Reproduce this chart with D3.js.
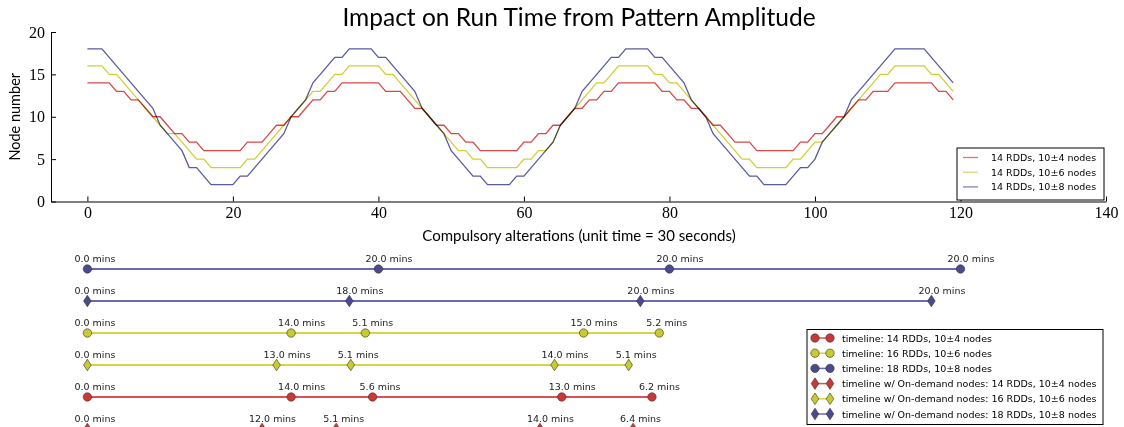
<!DOCTYPE html>
<html>
<head>
<meta charset="utf-8">
<script src="https://cdn.jsdelivr.net/npm/d3@7"></script>
<style>
  body { margin: 0; background: #fff; }
  svg { display: block; font-family: Lato, sans-serif; }
</style>
</head>
<body>
<div id="chart"></div>
<script>
// node counts per compulsory alteration (x = 0..119)
const nodes4 = [
  14, 14, 14, 14, 13, 13, 12, 12, 11, 10,
  10, 9, 8, 8, 7, 7, 6, 6, 6, 6,
  6, 6, 7, 7, 7, 8, 9, 9, 10, 10,
  11, 12, 12, 13, 13, 14, 14, 14, 14, 14,
  14, 13, 13, 13, 12, 11, 11, 10, 9, 9,
  8, 8, 7, 7, 6, 6, 6, 6, 6, 6,
  7, 7, 8, 8, 9, 9, 10, 11, 11, 12,
  12, 13, 13, 14, 14, 14, 14, 14, 14, 13,
  13, 12, 12, 11, 11, 10, 9, 9, 8, 7,
  7, 7, 6, 6, 6, 6, 6, 6, 7, 7,
  8, 8, 9, 10, 10, 11, 12, 12, 13, 13,
  13, 14, 14, 14, 14, 14, 14, 13, 13, 12,
];
const nodes6 = [
  16, 16, 16, 15, 15, 14, 13, 12, 11, 10,
  9, 8, 8, 7, 6, 5, 5, 4, 4, 4,
  4, 4, 5, 5, 6, 7, 8, 9, 10, 11,
  12, 13, 13, 14, 15, 15, 16, 16, 16, 16,
  16, 15, 15, 14, 13, 12, 11, 10, 9, 8,
  7, 6, 6, 5, 5, 4, 4, 4, 4, 4,
  5, 5, 6, 6, 7, 9, 10, 11, 12, 13,
  14, 14, 15, 16, 16, 16, 16, 16, 15, 15,
  14, 14, 13, 12, 11, 10, 9, 8, 7, 6,
  5, 5, 4, 4, 4, 4, 4, 5, 5, 6,
  7, 7, 8, 9, 10, 11, 12, 13, 14, 15,
  15, 16, 16, 16, 16, 16, 15, 15, 14, 13,
];
const nodes8 = [
  18, 18, 18, 17, 16, 15, 14, 13, 12, 11,
  9, 8, 7, 6, 4, 4, 3, 2, 2, 2,
  2, 3, 3, 4, 5, 6, 7, 8, 10, 11,
  12, 14, 15, 16, 17, 17, 18, 18, 18, 18,
  17, 17, 16, 15, 14, 13, 11, 10, 9, 8,
  6, 5, 4, 3, 3, 2, 2, 2, 2, 3,
  3, 4, 5, 6, 7, 9, 10, 11, 13, 14,
  15, 16, 17, 17, 18, 18, 18, 18, 17, 17,
  16, 15, 14, 12, 11, 10, 8, 7, 6, 5,
  4, 3, 3, 2, 2, 2, 2, 3, 4, 4,
  5, 7, 8, 9, 10, 12, 13, 14, 15, 16,
  17, 18, 18, 18, 18, 18, 17, 16, 15, 14,
];
const seriesNames = ['14 RDDs, 10±4 nodes', '14 RDDs, 10±6 nodes', '14 RDDs, 10±8 nodes'];
const xTicks = [0, 20, 40, 60, 80, 100, 120, 140];
const yTicks = [0, 5, 10, 15, 20];

// timeline segment lengths in minutes
const tl18 = [0, 20, 20, 20];
const tl18od = [0, 18, 20, 20];
const tl16 = [0, 14, 5.1, 15, 5.2];
const tl16od = [0, 13, 5.1, 14, 5.1];
const tl14 = [0, 14, 5.6, 13, 6.2];
const tl14od = [0, 12, 5.1, 14, 6.4];
const timelineNames = [
  'timeline: 14 RDDs, 10±4 nodes',
  'timeline: 16 RDDs, 10±6 nodes',
  'timeline: 18 RDDs, 10±8 nodes',
  'timeline w/ On-demand nodes: 14 RDDs, 10±4 nodes',
  'timeline w/ On-demand nodes: 16 RDDs, 10±6 nodes',
  'timeline w/ On-demand nodes: 18 RDDs, 10±8 nodes',
];

const red = '#d84848', yellow = '#cfcf38', blue = '#5a5aa4';
const palette = {
  red: { line: '#dc5252', fill: '#cc3636' },
  yellow: { line: '#d4d444', fill: '#c9c930' },
  blue: { line: '#6a6ab2', fill: '#4a4a90' },
};

const width = 1124, height = 427;
const svg = d3.select('#chart').append('svg')
  .attr('width', width).attr('height', height);

const x = d3.scaleLinear().domain([-5, 140]).range([51, 1106]);
const y = d3.scaleLinear().domain([0, 20]).range([201.5, 32]);

// axes
const xAxis = svg.append('g')
  .attr('transform', `translate(0,${y(0)})`)
  .call(d3.axisBottom(x).tickValues(xTicks).tickSizeInner(-5).tickSizeOuter(0).tickPadding(5));
const yAxis = svg.append('g')
  .attr('transform', `translate(${x(-5)},0)`)
  .call(d3.axisLeft(y).tickValues(yTicks).tickSizeInner(-5).tickSizeOuter(0).tickPadding(6));
[xAxis, yAxis].forEach((g) => {
  g.selectAll('text').attr('font-family', '"Liberation Serif", serif').attr('font-size', 16).attr('fill', '#000');
  g.selectAll('line, path').attr('stroke', '#000').attr('stroke-width', 1);
});

svg.append('text')
  .attr('x', 579).attr('y', 26)
  .attr('text-anchor', 'middle')
  .attr('font-size', 24.5)
  .text('Impact on Run Time from Pattern Amplitude');

svg.append('text')
  .attr('transform', `translate(20,${(y(0) + y(20)) / 2}) rotate(-90)`)
  .attr('text-anchor', 'middle')
  .attr('font-size', 14.5)
  .text('Node number');

svg.append('text')
  .attr('x', 579).attr('y', 241)
  .attr('text-anchor', 'middle')
  .attr('font-size', 15)
  .text('Compulsory alterations (unit time = 30 seconds)');

// node number curves
const line = d3.line().x((d, i) => x(i)).y((d) => y(d));
const curves = [
  { values: nodes4, color: red },
  { values: nodes6, color: yellow },
  { values: nodes8, color: blue },
];
svg.append('g').selectAll('path')
  .data(curves).join('path')
  .attr('d', (d) => line(d.values))
  .attr('fill', 'none')
  .attr('stroke', (d) => d.color)
  .attr('stroke-width', 1.3)
  .style('mix-blend-mode', 'multiply');

// top legend
const leg = svg.append('g');
leg.append('rect')
  .attr('x', 957).attr('y', 148).attr('width', 147).attr('height', 52)
  .attr('fill', '#fff').attr('stroke', '#000').attr('stroke-width', 1);
seriesNames.forEach((name, i) => {
  const ry = 157.5 + i * 14.7;
  leg.append('line')
    .attr('x1', 963).attr('x2', 978).attr('y1', ry).attr('y2', ry)
    .attr('stroke', curves[i].color).attr('stroke-width', 1.3).attr('opacity', 0.75);
  leg.append('text')
    .attr('x', 991).attr('y', ry + 3.5)
    .attr('font-family', '"DejaVu Sans", sans-serif').attr('font-size', 9.5)
    .text(name);
});

// timelines (1 unit on the x axis = 30 s, so minutes * 2)
const diamond = (w, h) => `M0,${-h}L${w},0L0,${h}L${-w},0Z`;
const rows = [
  { segs: tl18, c: palette.blue, shape: 'circle' },
  { segs: tl18od, c: palette.blue, shape: 'diamond' },
  { segs: tl16, c: palette.yellow, shape: 'circle' },
  { segs: tl16od, c: palette.yellow, shape: 'diamond' },
  { segs: tl14, c: palette.red, shape: 'circle' },
  { segs: tl14od, c: palette.red, shape: 'diamond' },
];

function drawMarker(g, shape, c, cx, cy) {
  if (shape === 'circle') {
    g.append('circle').attr('cx', cx).attr('cy', cy).attr('r', 4.2)
      .attr('fill', c.fill).attr('stroke', '#333').attr('stroke-width', 0.6);
  } else {
    g.append('path').attr('d', diamond(3.8, 5.8))
      .attr('transform', `translate(${cx},${cy})`)
      .attr('fill', c.fill).attr('stroke', '#333').attr('stroke-width', 0.6);
  }
}

const tlg = svg.append('g');
rows.forEach((row, r) => {
  const ry = 269 + r * 32;
  const pos = Array.from(d3.cumsum(row.segs));
  tlg.append('line')
    .attr('x1', x(pos[0] * 2)).attr('x2', x(pos[pos.length - 1] * 2))
    .attr('y1', ry).attr('y2', ry)
    .attr('stroke', row.c.line).attr('stroke-width', 1.8);
  pos.forEach((p, k) => {
    drawMarker(tlg, row.shape, row.c, x(p * 2), ry);
    tlg.append('text')
      .attr('x', x(p * 2) - 13).attr('y', ry - 7.5)
      .attr('font-family', '"DejaVu Sans", sans-serif').attr('font-size', 9.5)
      .attr('fill', '#222')
      .text(`${row.segs[k].toFixed(1)} mins`);
  });
});

// bottom legend
const leg2 = svg.append('g');
leg2.append('rect')
  .attr('x', 807).attr('y', 329.5).attr('width', 296).attr('height', 95)
  .attr('fill', '#fff').attr('stroke', '#000').attr('stroke-width', 1);
const legRows = [
  { c: palette.red, shape: 'circle' },
  { c: palette.yellow, shape: 'circle' },
  { c: palette.blue, shape: 'circle' },
  { c: palette.red, shape: 'diamond' },
  { c: palette.yellow, shape: 'diamond' },
  { c: palette.blue, shape: 'diamond' },
];
legRows.forEach((lr, i) => {
  const ry = 338 + i * 15.2;
  leg2.append('line')
    .attr('x1', 815).attr('x2', 830).attr('y1', ry).attr('y2', ry)
    .attr('stroke', lr.c.line).attr('stroke-width', 1.5);
  drawMarker(leg2, lr.shape, lr.c, 815, ry);
  drawMarker(leg2, lr.shape, lr.c, 830, ry);
  leg2.append('text')
    .attr('x', 842).attr('y', ry + 3.5)
    .attr('font-family', '"DejaVu Sans", sans-serif').attr('font-size', 9.5)
    .text(timelineNames[i]);
});
</script>
</body>
</html>
